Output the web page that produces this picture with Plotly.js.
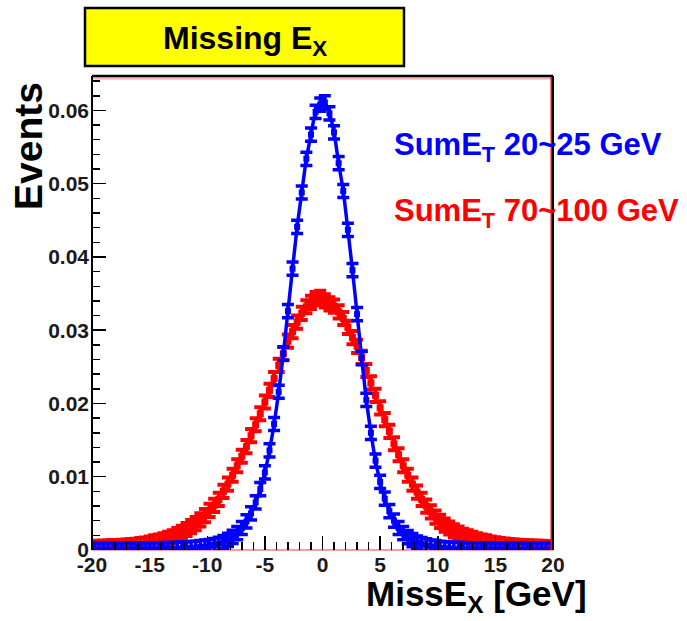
<!DOCTYPE html>
<html>
<head>
<meta charset="utf-8">
<script src="https://cdn.plot.ly/plotly-3.0.1.min.js"></script>
<style>
  html, body { margin: 0; padding: 0; background: #ffffff; }
  #chart { width: 687px; height: 621px; }
</style>
</head>
<body>
<div id="chart"></div>
<script>
// Bin centres (GeV), bin width 0.4
var binCenters = [
  -19.8,-19.4,-19.0,-18.6,-18.2,-17.8,-17.4,-17.0,-16.6,-16.2,
  -15.8,-15.4,-15.0,-14.6,-14.2,-13.8,-13.4,-13.0,-12.6,-12.2,
  -11.8,-11.4,-11.0,-10.6,-10.2,-9.8,-9.4,-9.0,-8.6,-8.2,
  -7.8,-7.4,-7.0,-6.6,-6.2,-5.8,-5.4,-5.0,-4.6,-4.2,
  -3.8,-3.4,-3.0,-2.6,-2.2,-1.8,-1.4,-1.0,-0.6,-0.2,
  0.2,0.6,1.0,1.4,1.8,2.2,2.6,3.0,3.4,3.8,
  4.2,4.6,5.0,5.4,5.8,6.2,6.6,7.0,7.4,7.8,
  8.2,8.6,9.0,9.4,9.8,10.2,10.6,11.0,11.4,11.8,
  12.2,12.6,13.0,13.4,13.8,14.2,14.6,15.0,15.4,15.8,
  16.2,16.6,17.0,17.4,17.8,18.2,18.6,19.0,19.4,19.8
];

// SumET 20~25 GeV (blue)
var lowSumEt = [
  0.00003,0.00004,0.00003,0.00005,0.00004,0.00005,0.00006,0.00005,0.00007,0.00006,
  0.00008,0.00007,0.00009,0.00010,0.00009,0.00012,0.00011,0.00014,0.00016,0.00019,
  0.00022,0.00027,0.00031,0.00038,0.00045,0.00055,0.00068,0.00085,0.00108,0.00138,
  0.00178,0.0023,0.0030,0.0039,0.0050,0.0065,0.0083,0.0106,0.0136,0.0172,
  0.0216,0.0268,0.0326,0.0384,0.0441,0.0488,0.0534,0.0567,0.0598,0.0608,
  0.0611,0.0596,0.0570,0.0528,0.0490,0.0437,0.0382,0.0322,0.0262,0.0205,
  0.0160,0.0122,0.0093,0.0070,0.0053,0.0040,0.0030,0.0023,0.00175,0.00135,
  0.00102,0.00080,0.00062,0.00048,0.00038,0.00030,0.00024,0.00019,0.00016,0.00013,
  0.00011,0.00010,0.00008,0.00009,0.00007,0.00006,0.00007,0.00005,0.00006,0.00005,
  0.00004,0.00005,0.00004,0.00003,0.00004,0.00003,0.00003,0.00002,0.00003,0.00002
];

// SumET 70~100 GeV (red)
var highSumEt = [
  0.00035,0.00030,0.00040,0.00038,0.00045,0.00040,0.00050,0.00055,0.00060,0.00065,
  0.00075,0.00080,0.00095,0.00110,0.00120,0.00140,0.00160,0.00180,0.00210,0.00240,
  0.0028,0.0032,0.0036,0.0041,0.0047,0.0054,0.0061,0.0069,0.0080,0.0090,
  0.0102,0.0115,0.0128,0.0141,0.0156,0.0171,0.0186,0.0202,0.0218,0.0234,
  0.0252,0.0268,0.0285,0.0298,0.0311,0.0323,0.0332,0.0338,0.0343,0.0345,
  0.0340,0.0336,0.0333,0.0325,0.0316,0.0304,0.0290,0.0278,0.0263,0.0245,
  0.0228,0.0211,0.0194,0.0178,0.0162,0.0145,0.0130,0.0115,0.0102,0.0090,
  0.0079,0.0069,0.0060,0.0052,0.0045,0.0039,0.0034,0.0030,0.0026,0.0023,
  0.0020,0.0018,0.0016,0.0014,0.0012,0.0011,0.00095,0.00085,0.00075,0.00068,
  0.00060,0.00055,0.00050,0.00045,0.00040,0.00040,0.00035,0.00035,0.00030,0.00030
];

var xTickVals = [-20,-15,-10,-5,0,5,10,15,20];
var xTickText = ["-20","-15","-10","-5","0","5","10","15","20"];
var yTickVals = [0,0.01,0.02,0.03,0.04,0.05,0.06];
var yTickText = ["0","0.01","0.02","0.03","0.04","0.05","0.06"];

var FONT = "Liberation Sans, Arial, sans-serif";
var BLUE = "#0000ff", RED = "#ff0000";

var traces = [
  {
    x: binCenters, y: highSumEt, type: "scatter", mode: "markers",
    marker: {symbol: "square", size: 7, color: RED},
    error_y: {type: "constant", value: 0.0009, color: RED, thickness: 4, width: 6},
    error_x: {type: "constant", value: 0.2, color: RED, thickness: 4, width: 0},
    hoverinfo: "skip", showlegend: false, cliponaxis: true
  },
  {
    x: binCenters, y: lowSumEt, type: "scatter", mode: "lines+markers",
    line: {color: BLUE, width: 3.5, shape: "spline", smoothing: 0.6},
    marker: {symbol: "square", size: 6, color: BLUE},
    error_y: {type: "constant", value: 0.0009, color: BLUE, thickness: 3.5, width: 6},
    error_x: {type: "constant", value: 0.2, color: BLUE, thickness: 3.5, width: 0},
    hoverinfo: "skip", showlegend: false, cliponaxis: true
  }
];

// plot area: x 92..553 px, y 76..550 px
function px(xp) { return (xp - 92) / 461; }
function py(yp) { return 1 - (yp - 76) / 474; }

var layout = {
  width: 687, height: 621,
  margin: {l: 92, r: 134, t: 76, b: 71, pad: 0},
  paper_bgcolor: "#ffffff", plot_bgcolor: "#ffffff",
  showlegend: false,
  font: {family: FONT, color: "#111111"},
  xaxis: {
    range: [-20, 20], showgrid: false, zeroline: false, showline: false,
    tickmode: "array", tickvals: xTickVals, ticktext: xTickText,
    ticks: "inside", ticklen: 14, tickwidth: 1.5, tickcolor: "#000",
    minor: {ticks: "inside", dtick: 1, ticklen: 8, tickwidth: 1.5, tickcolor: "#000", showgrid: false},
    tickfont: {family: FONT, size: 21, weight: "bold", color: "#1a1a1a"},
    ticklabelstandoff: 0
  },
  yaxis: {
    range: [0, 0.0647], showgrid: false, zeroline: false, showline: false,
    tickmode: "array", tickvals: yTickVals, ticktext: yTickText,
    ticks: "inside", ticklen: 14, tickwidth: 1.5, tickcolor: "#000",
    minor: {ticks: "inside", dtick: 0.002, ticklen: 8, tickwidth: 1.5, tickcolor: "#000", showgrid: false},
    tickfont: {family: FONT, size: 21, weight: "bold", color: "#1a1a1a"},
    ticklabelstandoff: 2
  },
  shapes: [
    // title box
    {type: "rect", xref: "paper", yref: "paper", x0: px(85), x1: px(404), y0: py(66), y1: py(8),
     fillcolor: "#ffff00", line: {color: "#000000", width: 2.5}, layer: "above"},
    // frame
    {type: "line", xref: "paper", yref: "paper", x0: 0, x1: 1, y0: py(78.5), y1: py(78.5),
     line: {color: "#f2b0b0", width: 2}, layer: "below"},
    {type: "line", xref: "paper", yref: "paper", x0: 0, x1: 1, y0: 0, y1: 0,
     line: {color: "#f0a0a0", width: 2}, layer: "below"},
    {type: "line", xref: "paper", yref: "paper", x0: px(551.5), x1: px(551.5), y0: 0, y1: 1,
     line: {color: RED, width: 2}, layer: "above"},
    {type: "line", xref: "paper", yref: "paper", x0: 0, x1: 1, y0: 1, y1: 1,
     line: {color: "#000000", width: 2.5}, layer: "above"},
    {type: "line", xref: "paper", yref: "paper", x0: 0, x1: 0, y0: 0, y1: 1,
     line: {color: "#000000", width: 2}, layer: "above"},
    {type: "line", xref: "paper", yref: "paper", x0: 1, x1: 1, y0: 0, y1: 1,
     line: {color: "#000000", width: 2}, layer: "above"}
  ],
  annotations: [
    {text: "Missing E<sub>X</sub>", xref: "paper", yref: "paper", x: px(245), y: py(41),
     xanchor: "center", yanchor: "middle", showarrow: false,
     font: {family: FONT, size: 32, weight: "bold", color: "#000000"}},
    {text: "Events", xref: "paper", yref: "paper", x: px(28), y: py(146),
     xanchor: "center", yanchor: "middle", textangle: -90, showarrow: false,
     font: {family: FONT, size: 39, weight: "bold", color: "#000000"}},
    {text: "MissE<sub>X</sub> [GeV]", xref: "paper", yref: "paper", x: px(589), y: py(596),
     xanchor: "right", yanchor: "middle", showarrow: false,
     font: {family: FONT, size: 35, weight: "bold", color: "#000000"}},
    {text: "SumE<sub>T</sub> 20~25 GeV", xref: "paper", yref: "paper", x: px(392), y: py(147),
     xanchor: "left", yanchor: "middle", showarrow: false,
     font: {family: FONT, size: 31, weight: "bold", color: BLUE}},
    {text: "SumE<sub>T</sub> 70~100 GeV", xref: "paper", yref: "paper", x: px(392), y: py(213),
     xanchor: "left", yanchor: "middle", showarrow: false,
     font: {family: FONT, size: 31, weight: "bold", color: RED}}
  ]
};

Plotly.newPlot("chart", traces, layout, {staticPlot: true, displayModeBar: false});
</script>
</body>
</html>
